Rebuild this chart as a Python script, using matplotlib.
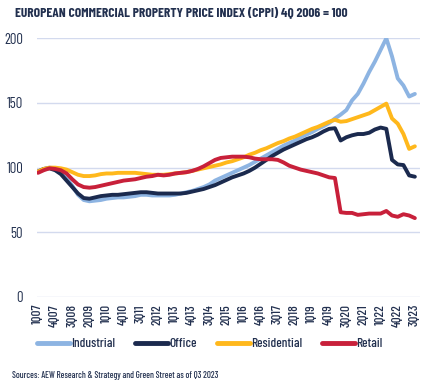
import matplotlib
matplotlib.use("Agg")
import matplotlib.pyplot as plt
import numpy as np

quarters = []
for y in range(2007, 2024):
    for q in range(1, 5):
        if y == 2023 and q > 3:
            break
        quarters.append(f"{q}Q{str(y)[2:]}")

industrial = [97, 99, 100, 99.5, 97, 92, 86, 79, 75, 74, 74.5, 75, 76, 76.5, 77, 77,
              77.5, 78, 79, 79, 78.5, 78.5, 78.5, 78.5, 79, 80, 81, 82, 83.5, 85, 87, 90,
              92, 94, 96, 98, 100, 102, 104.5, 107, 109.5, 112, 114.5, 117, 119, 121, 123.5,
              125.5, 127.5, 130, 132, 134.5, 138, 141, 144.5, 152, 157, 165, 174, 182, 191,
              200, 186, 169, 163.5, 155, 157]
office = [97, 99, 99.5, 98, 95, 90, 85, 80, 76.5, 76, 77, 78, 78.5, 79, 79, 79.5,
          80, 80.5, 81, 81, 80.5, 80, 80, 80, 80, 80, 80.5, 81.5, 82.5, 83.5, 85, 86.5,
          88.5, 90.5, 92.5, 94, 95.5, 97.5, 100, 103, 106, 109, 111.5, 114, 116, 118, 120,
          122, 123.5, 125.5, 128, 130, 130.5, 121, 123.5, 125, 126, 126, 127, 129.5, 131,
          130, 106, 102.5, 102, 94, 93]
residential = [97, 99, 100, 100, 99.5, 98.5, 96.5, 94.5, 93.5, 93.5, 94, 95, 95.5, 95.5, 96, 96,
               96, 96, 95.5, 95, 94.5, 94.5, 94.5, 95, 95.5, 96, 96.5, 97.5, 98.5, 99.5, 100.5,
               101.5, 102.5, 104, 105, 106.5, 108, 110, 111.5, 113.5, 115, 117, 119, 120.5, 122.5,
               124, 126, 128, 130, 131.5, 133.5, 135.5, 137, 135.5, 136, 137.5, 139, 140.5, 142,
               144.5, 147, 149.5, 138, 134, 126, 114.5, 116.5]
retail = [96, 98, 99.5, 99, 98, 95.5, 91, 87, 85, 84.5, 85, 86, 87, 88, 89, 90,
          90.5, 91, 92, 93, 93.5, 94.5, 94, 94.5, 95.5, 96, 96.5, 97.5, 99, 101, 103.5, 106,
          107.5, 108, 108.5, 108.5, 108.5, 108, 107, 106.5, 106.5, 106.5, 106, 104, 101.5, 100,
          98.5, 97.5, 96.5, 95.5, 94, 92.5, 92, 65.5, 65, 65, 63.5, 64, 64.5, 64.5, 64.5,
          66.5, 63, 62, 64, 63, 61]

series_names = ["Industrial", "Office", "Residential", "Retail"]
colors = ["#8DB4E2", "#1B2A4E", "#FFB81C", "#C8203A"]
yticks = [0, 50, 100, 150, 200]

title = "EUROPEAN COMMERCIAL PROPERTY PRICE INDEX (CPPI) 4Q 2006 = 100"
source = "Sources: AEW Research & Strategy and Green Street as of Q3 2023"

text_color = "#22304F"
grid_color = "#D3DAEE"
plt.rcParams['font.family'] = ['Barlow Condensed', 'DejaVu Sans']

fig = plt.figure(figsize=(4.29, 3.91), dpi=100)
ax = fig.add_axes([37/429, 1 - 297/391, 383/429, (297 - 38.3)/391])

x = np.arange(len(quarters))
for name, data, c in zip(series_names, [industrial, office, residential, retail], colors):
    ax.plot(x, data, color=c, lw=2.8, label=name, solid_capstyle='round', solid_joinstyle='round')

ax.set_ylim(0, 200)
ax.set_xlim(-0.18, 66.9)
ax.set_yticks(yticks)
ax.set_yticklabels([str(v) for v in yticks], fontsize=10.5, color=text_color)
ax.yaxis.grid(True, color=grid_color, lw=1)
ax.set_axisbelow(True)
ax.set_xticks(x[::3])
ax.set_xticklabels(quarters[::3], rotation=90, fontsize=9.5, color=text_color, fontweight='medium')
ax.tick_params(axis='both', length=0, pad=5)
ax.tick_params(axis='y', pad=10)
for s in ax.spines.values():
    s.set_visible(False)

fig.text(15/429, 1 - 12/391, title, fontsize=9.7, fontweight='bold', color=text_color,
         va='center', ha='left')

handles, labels = ax.get_legend_handles_labels()
leg = fig.legend(handles, labels, loc='center left', bbox_to_anchor=(37/429, 1 - 344/391), ncol=4,
                 frameon=False, fontsize=9.5, handlelength=2.5, handletextpad=0.1,
                 columnspacing=1.5, borderaxespad=0, borderpad=0)
for line in leg.get_lines():
    line.set_linewidth(3.5)
for t in leg.get_texts():
    t.set_color(text_color)
    t.set_fontweight('medium')

fig.text(12/429, 1 - 376/391, source, fontsize=6.5, color=text_color, va='center', ha='left',
         fontweight='medium')

fig.savefig("out.png", dpi=100)
